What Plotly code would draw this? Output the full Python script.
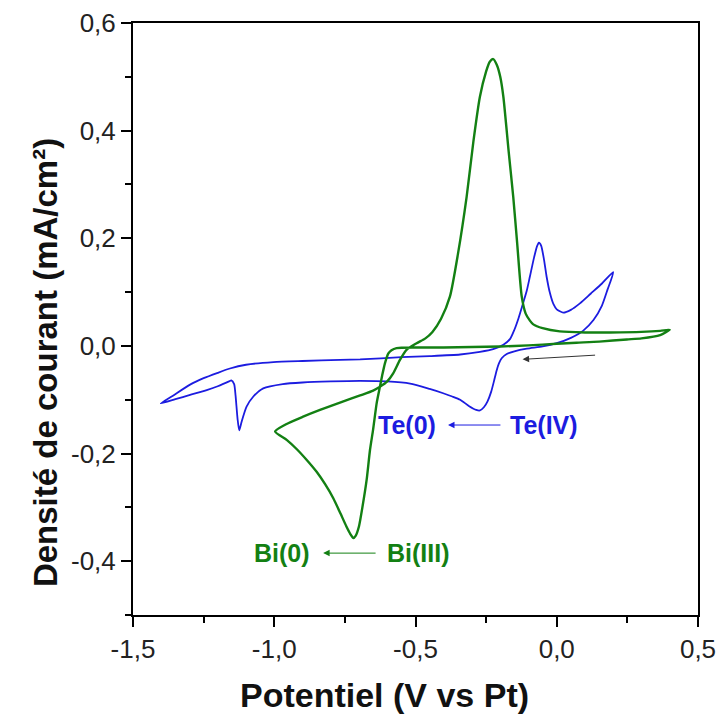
import plotly.graph_objects as go

# ---- Data ----
# Te curve (blue): potential (V vs Pt) and current density (mA/cm2), scan order
te_E = [0.200, 0.180, 0.160, 0.130, 0.093, 0.050, 0.000, -0.050, -0.106, -0.150,
        -0.177, -0.195, -0.205, -0.213, -0.222, -0.232, -0.245, -0.258, -0.272, -0.285,
        -0.310, -0.342, -0.370, -0.402, -0.450, -0.519, -0.600, -0.696, -0.800, -0.900,
        -0.970, -1.039, -1.074, -1.098, -1.115, -1.124, -1.130, -1.137, -1.142, -1.152,
        -1.160, -1.200, -1.239, -1.298, -1.350, -1.402,
        -1.360, -1.298, -1.250, -1.200, -1.157, -1.100, -1.003, -0.900, -0.767, -0.696,
        -0.550, -0.450, -0.342, -0.272, -0.225, -0.189, -0.165, -0.150, -0.135, -0.120,
        -0.106, -0.095, -0.080, -0.070, -0.063, -0.055, -0.045, -0.036, -0.025,
        -0.012, 0.000, 0.023, 0.050, 0.082, 0.120, 0.160, 0.200]
te_J = [0.137, 0.105, 0.075, 0.048, 0.028, 0.015, 0.005, -0.001, -0.005, -0.010,
        -0.015, -0.023, -0.033, -0.046, -0.065, -0.085, -0.103, -0.114, -0.120, -0.119,
        -0.112, -0.100, -0.094, -0.088, -0.080, -0.070, -0.066, -0.065, -0.066, -0.068,
        -0.071, -0.079, -0.094, -0.113, -0.140, -0.157, -0.135, -0.092, -0.071, -0.064,
        -0.066, -0.075, -0.082, -0.091, -0.099, -0.107,
        -0.093, -0.072, -0.060, -0.050, -0.042, -0.035, -0.030, -0.028, -0.026, -0.025,
        -0.021, -0.019, -0.016, -0.011, -0.006, 0.002, 0.013, 0.030, 0.052, 0.078,
        0.103, 0.129, 0.165, 0.185, 0.192, 0.186, 0.160, 0.129, 0.100,
        0.078, 0.068, 0.062, 0.067, 0.079, 0.097, 0.116, 0.137]

# Bi curve (green)
bi_E = [0.400, 0.366, 0.300, 0.248, 0.150, 0.070, 0.000, -0.100, -0.200, -0.300,
        -0.400, -0.500, -0.567, -0.585, -0.596, -0.608, -0.618, -0.626, -0.637, -0.650,
        -0.661, -0.673, -0.688, -0.700, -0.712, -0.720, -0.730, -0.745, -0.765, -0.791,
        -0.820, -0.850, -0.885, -0.920, -0.955, -0.997,
        -0.960, -0.900, -0.838, -0.760, -0.696, -0.650, -0.626, -0.600, -0.579, -0.555,
        -0.531, -0.496, -0.465, -0.440, -0.410, -0.378, -0.350, -0.319, -0.295, -0.272,
        -0.250, -0.237, -0.225, -0.212, -0.200, -0.189, -0.170, -0.154, -0.140, -0.124,
        -0.110, -0.095, -0.083, -0.050, 0.011, 0.100, 0.188, 0.300, 0.366, 0.400]
bi_J = [0.030, 0.020, 0.014, 0.012, 0.008, 0.006, 0.004, 0.001, -0.001, -0.002,
        -0.003, -0.003, -0.004, -0.008, -0.014, -0.032, -0.055, -0.076, -0.105, -0.155,
        -0.193, -0.249, -0.300, -0.335, -0.353, -0.357, -0.350, -0.335, -0.312, -0.283,
        -0.257, -0.234, -0.212, -0.192, -0.175, -0.159,
        -0.146, -0.132, -0.119, -0.104, -0.092, -0.083, -0.076, -0.066, -0.051, -0.026,
        -0.007, 0.005, 0.014, 0.026, 0.050, 0.092, 0.170, 0.277, 0.380, 0.463,
        0.510, 0.528, 0.533, 0.522, 0.500, 0.463, 0.360, 0.277, 0.190, 0.092,
        0.060, 0.047, 0.040, 0.033, 0.027, 0.025, 0.025, 0.026, 0.028, 0.030]

x_tick_vals = [-1.5, -1.0, -0.5, 0.0, 0.5]
x_tick_text = ["-1,5", "-1,0", "-0,5", "0,0", "0,5"]
y_tick_vals = [-0.4, -0.2, 0.0, 0.2, 0.4, 0.6]
y_tick_text = ["-0,4", "-0,2", "0,0", "0,2", "0,4", "0,6"]

x_title = "Potentiel (V vs Pt)"
y_title = "Densité de courant (mA/cm²)"

BLUE = "#1c1ce0"
GREEN = "#138013"
FONT = "Liberation Sans, Arial, sans-serif"

fig = go.Figure()
fig.add_trace(go.Scatter(x=te_E, y=te_J, mode="lines",
                         line=dict(color=BLUE, width=1.8, shape="spline", smoothing=0.6),
                         showlegend=False))
fig.add_trace(go.Scatter(x=bi_E, y=bi_J, mode="lines",
                         line=dict(color=GREEN, width=2.4, shape="spline", smoothing=0.6),
                         showlegend=False))

annotations = [
    dict(x=-0.530, y=-0.147, text="<b>Te(0)</b>", showarrow=False,
         font=dict(color=BLUE, size=25, family=FONT)),
    dict(x=-0.045, y=-0.147, text="<b>Te(IV)</b>", showarrow=False,
         font=dict(color=BLUE, size=25, family=FONT)),
    dict(x=-0.385, y=-0.147, ax=-0.194, ay=-0.147, axref="x", ayref="y", xref="x", yref="y",
         text="", showarrow=True, arrowhead=2, arrowsize=1.3, arrowwidth=1, arrowcolor=BLUE),
    dict(x=-0.973, y=-0.385, text="<b>Bi(0)</b>", showarrow=False,
         font=dict(color=GREEN, size=25, family=FONT)),
    dict(x=-0.491, y=-0.385, text="<b>Bi(III)</b>", showarrow=False,
         font=dict(color=GREEN, size=25, family=FONT)),
    dict(x=-0.827, y=-0.385, ax=-0.636, ay=-0.385, axref="x", ayref="y", xref="x", yref="y",
         text="", showarrow=True, arrowhead=2, arrowsize=1.3, arrowwidth=1, arrowcolor=GREEN),
    dict(x=-0.121, y=-0.025, ax=0.141, ay=-0.017, axref="x", ayref="y", xref="x", yref="y",
         text="", showarrow=True, arrowhead=2, arrowsize=1.3, arrowwidth=1, arrowcolor="#333333"),
    # axis titles (placed like the reference, slightly off-centre)
    dict(x=0.446, y=-0.135, xref="paper", yref="paper", text="<b>" + x_title + "</b>",
         showarrow=False, font=dict(size=34, family=FONT, color="#111"),
         xanchor="center", yanchor="middle"),
    dict(x=-0.156, y=0.427, xref="paper", yref="paper", text="<b>" + y_title + "</b>",
         showarrow=False, textangle=-90, font=dict(size=33, family=FONT, color="#111"),
         xanchor="center", yanchor="middle"),
]

axis_common = dict(showgrid=False, zeroline=False, showline=True, linecolor="black",
                   linewidth=2, mirror=True, ticks="outside", ticklen=10, tickwidth=1.5,
                   tickcolor="black", tickfont=dict(size=26, family=FONT, color="#222"),
                   automargin=False)

fig.update_layout(
    width=719, height=724,
    margin=dict(l=133, r=21, t=23, b=109),
    paper_bgcolor="white", plot_bgcolor="white",
    font=dict(family=FONT),
    annotations=annotations,
    xaxis=dict(range=[-1.5, 0.5], tickmode="array", tickvals=x_tick_vals, ticktext=x_tick_text,
               minor=dict(tickmode="linear", tick0=0, dtick=0.25, ticklen=6, tickwidth=1.5,
                          tickcolor="black", ticks="outside"),
               **axis_common),
    yaxis=dict(range=[-0.5, 0.6], tickmode="array", tickvals=y_tick_vals, ticktext=y_tick_text,
               minor=dict(tickmode="linear", tick0=0, dtick=0.1, ticklen=6, tickwidth=1.5,
                          tickcolor="black", ticks="outside"),
               **axis_common),
)

fig.write_html("out.html", config={"displayModeBar": False},
               post_script="document.body.style.margin='0';document.body.style.overflow='hidden';")
